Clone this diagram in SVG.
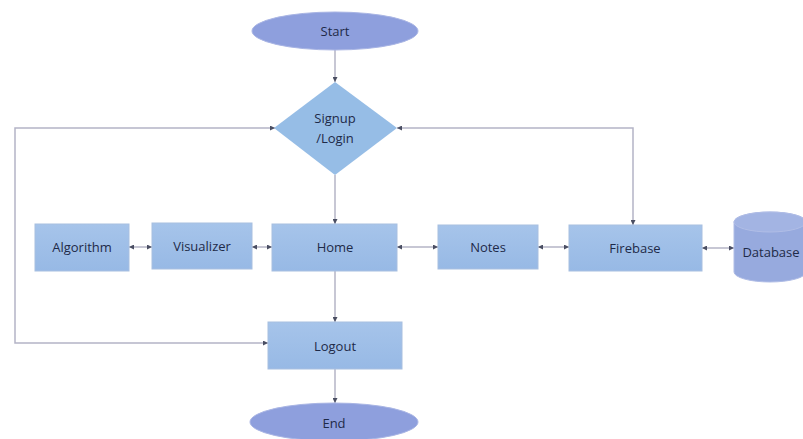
<svg xmlns="http://www.w3.org/2000/svg" width="803" height="439" viewBox="0 0 803 439">
<style>
.box{fill:url(#gBox);stroke:#a8bfe0;stroke-width:1}
.ell{fill:#8e9fdd;stroke:#a9b5e4;stroke-width:1}
.dia{fill:#96bde6}
.cyl{fill:#97aade;stroke:#b0bde6;stroke-width:1}
.t{font-family:"Open Sans","Liberation Sans",sans-serif;font-size:13px;fill:#1e2a48;text-anchor:middle;dominant-baseline:central}
.c{fill:none;stroke:#b4b4c6;stroke-width:1.5}
</style>
<defs>
<linearGradient id="gBox" x1="0" y1="0" x2="0" y2="1">
<stop offset="0" stop-color="#a6c4ea"/>
<stop offset="1" stop-color="#97b9e5"/>
</linearGradient>
<marker id="a" viewBox="0 0 6 6" refX="6" refY="3" markerWidth="5" markerHeight="5" orient="auto-start-reverse" markerUnits="userSpaceOnUse">
<path d="M0,0 L6,3 L0,6 z" fill="#4a4e62"/>
</marker>
</defs>
<g id="connectors">
<line class="c" x1="335" y1="50" x2="335" y2="82" marker-end="url(#a)"/>
<line class="c" x1="335" y1="175" x2="335" y2="224" marker-end="url(#a)"/>
<line class="c" x1="335" y1="271" x2="335" y2="322" marker-end="url(#a)"/>
<line class="c" x1="335" y1="369" x2="335" y2="403" marker-end="url(#a)"/>
<polyline class="c" points="268,343 15,343 15,128 275,128" marker-start="url(#a)" marker-end="url(#a)"/>
<polyline class="c" points="633,225 633,128 397,128" marker-start="url(#a)" marker-end="url(#a)"/>
<line class="c" x1="129" y1="247" x2="152" y2="247" marker-start="url(#a)" marker-end="url(#a)"/>
<line class="c" x1="252" y1="247" x2="272" y2="247" marker-start="url(#a)" marker-end="url(#a)"/>
<line class="c" x1="397" y1="247" x2="438" y2="247" marker-start="url(#a)" marker-end="url(#a)"/>
<line class="c" x1="538" y1="247" x2="569" y2="247" marker-start="url(#a)" marker-end="url(#a)"/>
<line class="c" x1="702" y1="248" x2="734" y2="248" marker-start="url(#a)" marker-end="url(#a)"/>
</g>
<g id="start">
<ellipse class="ell" cx="335" cy="31" rx="83" ry="19"/>
<text class="t" x="335" y="31">Start</text>
</g>
<g id="signup">
<polygon class="dia" points="335,82 397,128 335,175 274,128"/>
<text class="t" x="335" y="118">Signup</text>
<text class="t" x="335" y="138">/Login</text>
</g>
<g id="algorithm">
<rect class="box" x="35" y="224" width="94" height="47"/>
<text class="t" x="82" y="247">Algorithm</text>
</g>
<g id="visualizer">
<rect class="box" x="152" y="223" width="100" height="46"/>
<text class="t" x="202" y="246">Visualizer</text>
</g>
<g id="home">
<rect class="box" x="272" y="224" width="125" height="47"/>
<text class="t" x="335" y="247">Home</text>
</g>
<g id="notes">
<rect class="box" x="438" y="225" width="100" height="44"/>
<text class="t" x="488" y="247">Notes</text>
</g>
<g id="firebase">
<rect class="box" x="569" y="225" width="133" height="46"/>
<text class="t" x="635" y="248">Firebase</text>
</g>
<g id="database">
<path class="cyl" d="M734,222 L734,272 A36,10 0 0 0 806,272 L806,222 A36,10 0 0 0 734,222 Z"/>
<ellipse class="cyl" cx="770" cy="222" rx="36" ry="10" style="fill:#a3b4e3"/>
<text class="t" x="771" y="252">Database</text>
</g>
<g id="logout">
<rect class="box" x="268" y="322" width="134" height="47"/>
<text class="t" x="335" y="346">Logout</text>
</g>
<g id="end">
<ellipse class="ell" cx="334" cy="422" rx="84" ry="19"/>
<text class="t" x="334" y="423">End</text>
</g>
</svg>
